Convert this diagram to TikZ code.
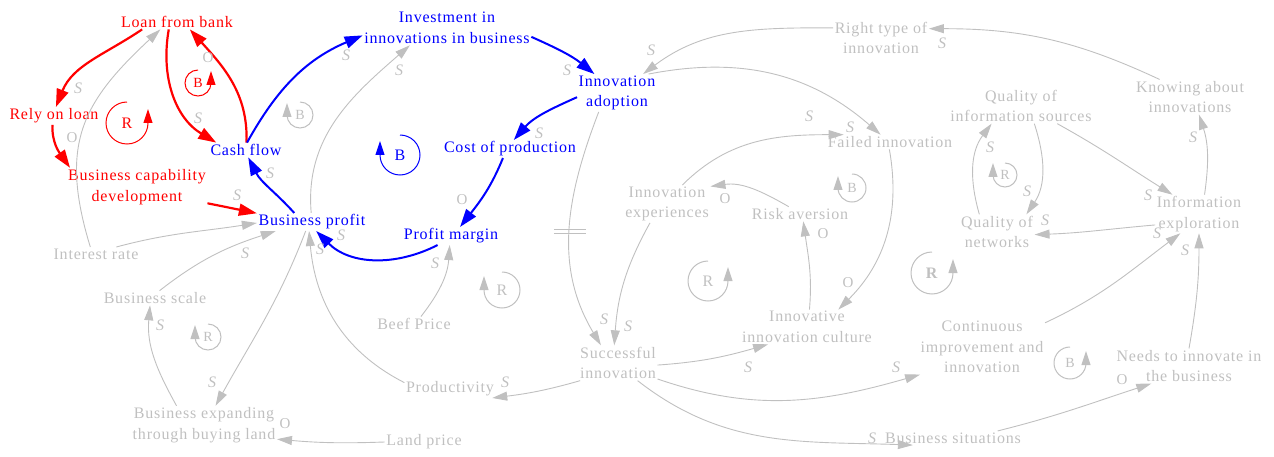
\documentclass[tikz,border=0pt]{standalone}
\usepackage{fontspec}
\setmainfont{Liberation Serif}[LetterSpace=5]
\usetikzlibrary{arrows.meta}
\definecolor{lgray}{RGB}{192,192,192}
\begin{document}
\begin{tikzpicture}[x=1pt,y=1pt,
  every node/.style={font=\fontsize{16}{20.5}\selectfont,inner sep=1.5pt,align=center},
  rnode/.style={text=red},
  bnode/.style={text=blue},
  gnode/.style={text=lgray},
  pol/.style={text=lgray,font=\fontsize{16}{20}\selectfont\itshape},
  polo/.style={text=lgray,font=\fontsize{15}{20}\selectfont},
  redlink/.style={draw=red,line width=2.2pt,-{Triangle[length=18pt,width=12pt]}},
  bluelink/.style={draw=blue,line width=2pt,-{Triangle[length=18pt,width=12pt]}},
  graylink/.style={draw=lgray,line width=0.9pt,-{Triangle[length=15pt,width=9pt]}},
  loopline/.style={line width=1pt,-{Triangle[length=14pt,width=9pt]}},
  smallloop/.style={font=\fontsize{14}{16}\selectfont}]
\useasboundingbox (0,0) rectangle (1274,-457);

\node[rnode] (loan) at (177,-22) {Loan from bank};
\node[rnode] (rely) at (54,-116) {Rely on loan};
\node[rnode] (capab) at (137,-187) {Business capability\\development};
\node[bnode] (cash) at (246,-150) {Cash flow};
\node[bnode] (invest) at (447,-28) {Investment in\\innovations in business};
\node[bnode] (adopt) at (617,-93) {Innovation\\adoption};
\node[bnode] (cost) at (510,-149) {Cost of production};
\node[bnode] (profit) at (312,-222) {Business profit};
\node[bnode] (margin) at (451,-236) {Profit margin};
\node[gnode] (righttype) at (881,-38) {Right type of\\innovation};
\node[gnode] (knowing) at (1190,-97) {Knowing about\\innovations};
\node[gnode] (infosrc) at (1021,-106) {Quality of\\information sources};
\node[gnode] (failed) at (890,-142) {Failed innovation};
\node[gnode] (exper) at (667,-204) {Innovation\\experiences};
\node[gnode] (risk) at (800,-214) {Risk aversion};
\node[gnode] (networks) at (997,-232) {Quality of\\networks};
\node[gnode] (explor) at (1199,-214) {Information\\exploration};
\node[gnode] (interest) at (96,-254) {Interest rate};
\node[gnode] (scale) at (155,-298) {Business scale};
\node[gnode] (beef) at (414,-324) {Beef Price};
\node[gnode] (culture) at (807,-327) {Innovative\\innovation culture};
\node[gnode] (success) at (618,-363) {Successful\\innovation};
\node[gnode] (improve) at (982,-347) {Continuous\\improvement and\\innovation};
\node[gnode] (needs) at (1189,-366) {Needs to innovate in\\the business};
\node[gnode] (product) at (450,-389) {Productivity};
\node[gnode] (expand) at (204,-425) {Business expanding\\through buying land};
\node[gnode] (land) at (424,-442) {Land price};
\node[gnode] (situat) at (953,-438) {Business situations};

\draw[redlink] (loan.192) to[out=214,in=68] (rely.78);
\draw[redlink] (rely.260) to[out=268,in=125] (capab.164);
\draw[redlink] (loan.222) to[out=260,in=149] (cash.166);
\draw[redlink] (cash.86) to[out=88,in=312] (loan.330);
\draw[redlink] (capab.347) -- (profit.171);

\draw[bluelink] (cash.82) to[out=61,in=203] (invest.185);
\draw[bluelink] (invest.354) to[out=336,in=141] (adopt.140);
\draw[bluelink] (adopt.186) to[out=204,in=49] (cost.67);
\draw[bluelink] (cost.232) to[out=248,in=52] (margin.45);
\draw[bluelink] (margin.214) to[out=207,in=315] (profit.295);
\draw[bluelink] (profit.153) to[out=132,in=297] (cash.287);

\draw[graylink] (interest.129) to[out=107,in=223,looseness=1.2] (loan.204);
\draw[graylink] (interest.19) to[out=15,in=189] (profit.181);
\draw[graylink] (scale.58) to[out=38,in=198] (profit.194);
\draw[graylink] (expand.145) to[out=119,in=265] (scale.236);
\draw[graylink] (profit.235) to[out=249,in=61] (expand.59);
\draw[graylink] (land.180) to[out=182,in=355] (expand.349);
\draw[graylink] (product.172) to[out=153,in=275] (profit.252);
\draw[graylink] (success.205) to[out=196,in=7] (product.348);
\draw[graylink] (beef.47) to[out=52,in=266] (margin.262);
\draw[graylink] (profit.95) to[out=95,in=221] (invest.205);
\draw[graylink] (adopt.226) to[out=249,in=121] coordinate[pos=0.5] (delay) (success.134);
\draw[lgray,line width=0.9pt] ([xshift=-16pt,yshift=2pt]delay) -- ++(32,0)
  ([xshift=-16pt,yshift=-2pt]delay) -- ++(32,0);
\draw[graylink] (exper.228) to[out=241,in=86] (success.102);
\draw[graylink] (adopt.31) to[out=11,in=139] (failed.142);
\draw[graylink] (righttype.168) to[out=180,in=37] (adopt.36);
\draw[graylink] (knowing.150) to[out=155,in=0] (righttype.11);
\draw[graylink] (exper.51) to[out=45,in=180] (failed.171);
\draw[graylink] (risk.147) to[out=150,in=8] (exper.22);
\draw[graylink] (failed.265) to[out=280,in=45] (culture.29);
\draw[graylink] (culture.82) to[out=85,in=278] (risk.294);
\draw[graylink] (success.357) to[out=4,in=196] (culture.204);
\draw[graylink] (success.338) to[out=341,in=196] (improve.204);
\draw[graylink] (success.318) to[out=322,in=178] (situat.190);
\draw[graylink] (situat.9) to[out=14,in=198] (needs.205);
\draw[graylink] (needs.90) to[out=80,in=270] (explor.270);
\draw[graylink] (improve.21) to[out=25,in=217] (explor.226);
\draw[graylink] (explor.194) to[out=185,in=2] (networks.356);
\draw[graylink] (infosrc.307) to[out=288,in=56] (networks.31);
\draw[graylink] (networks.135) to[out=106,in=233] (infosrc.211);
\draw[graylink] (infosrc.334) to[out=331,in=148] (explor.144);
\draw[graylink] (explor.74) to[out=82,in=288] (knowing.297);

\foreach \x/\y [count=\i] in {78/88, 198/118, 237/195, 270/173, 346/55, 399/70,
  567/70, 539/133, 341/235, 320/249, 245/253, 160/325, 212/382, 435/263,
  505/382, 604/319, 628/326, 651/50, 942/43, 809/116, 850/127, 748/367,
  896/367, 872/438, 1185/250, 1157/233, 1148/195, 1045/220, 1027/191,
  990/147, 1193/137}
  \node[pol] (pols\i) at (\x,-\y) {S};
\foreach \x/\y [count=\i] in {72/138, 208/58, 462/200, 285/424, 725/199,
  823/234, 848/283, 1122/380}
  \node[polo] (polo\i) at (\x,-\y) {O};

\draw[loopline,red] (127,-102) arc[start angle=90,end angle=360,radius=21] -- ++(0,14);
\node[rnode] (loopR1) at (127,-123) {R};
\draw[loopline,red] (198,-70) arc[start angle=90,end angle=360,radius=13] -- ++(0,12);
\node[rnode,smallloop] (loopB1) at (198,-83) {B};
\draw[loopline,lgray] (300,-102) arc[start angle=90,end angle=-180,radius=13] -- ++(0,12);
\node[gnode,smallloop] (loopB2) at (300,-115) {B};
\draw[loopline,blue] (400,-135) arc[start angle=90,end angle=-180,radius=20] -- ++(0,14);
\node[bnode] (loopB3) at (400,-155) {B};
\draw[loopline,lgray] (502,-272) arc[start angle=90,end angle=-180,radius=18] -- ++(0,14);
\node[gnode] (loopR2) at (502,-290) {R};
\draw[loopline,lgray] (208,-324) arc[start angle=90,end angle=-180,radius=13] -- ++(0,12);
\node[gnode,smallloop] (loopR3) at (208,-337) {R};
\draw[loopline,lgray] (708,-261) arc[start angle=90,end angle=360,radius=20] -- ++(0,14);
\node[gnode] (loopR4) at (708,-281) {R};
\draw[loopline,lgray] (852,-174) arc[start angle=90,end angle=-180,radius=14] -- ++(0,12);
\node[gnode,smallloop] (loopB4) at (852,-188) {B};
\draw[loopline,lgray] (1005,-163) arc[start angle=90,end angle=-180,radius=12] -- ++(0,12);
\node[gnode,smallloop] (loopR5) at (1005,-175) {R};
\draw[loopline,lgray] (932,-252) arc[start angle=90,end angle=360,radius=21] -- ++(0,14);
\node[gnode] (loopR6) at (932,-273) {\textbf{R}};
\draw[loopline,lgray] (1070,-347) arc[start angle=90,end angle=360,radius=16] -- ++(0,12);
\node[gnode,smallloop] (loopB5) at (1070,-363) {B};
\end{tikzpicture}
\end{document}
